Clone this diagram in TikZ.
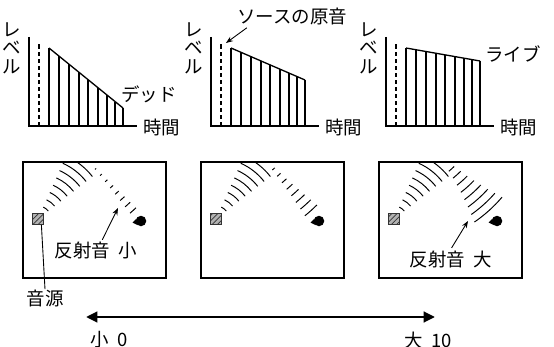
\documentclass[tikz,border=0pt]{standalone}
\usepackage{fontspec}
\newfontfamily\jp{Noto Sans CJK JP}
\usetikzlibrary{calc, arrows.meta, patterns}

\begin{document}
\begin{tikzpicture}[x=0.02cm, y=-0.02cm,
    axis/.style={line width=0.6pt},
    bar/.style={line width=0.75pt},
    direct/.style={line width=0.75pt, dash pattern=on 2.4pt off 1.6pt},
    lbl/.style={font=\jp\fontsize{10.5}{10.5}\selectfont, inner sep=0pt},
    room/.style={rectangle, draw, line width=0.85pt, outer sep=0pt,
        minimum width=2.86cm, minimum height=2.32cm},
    src/.style={rectangle, draw=black!80, line width=0.4pt, preaction={fill=black!30},
        pattern=north east lines, pattern color=black!80, minimum size=0.22cm, inner sep=0pt},
    ear/.style={circle, fill=black, minimum size=0.21cm, inner sep=0pt},
    wave/.style={line width=0.55pt},
    pointer/.style={-{Stealth[length=4pt, width=3pt]}, line width=0.5pt},
    scalebar/.style={{Triangle[length=6.5pt, width=6pt]}-{Triangle[length=6.5pt, width=6pt]}, line width=1.6pt}
]
\useasboundingbox (0,0) rectangle (554,347);

% --- Gráficas nivel / tiempo ---
\foreach \ox/\hl [count=\i] in {29/108, 211/80, 386/61} {
    \draw[axis] (\ox,37) -- (\ox,126) -- ++(108,0);
    \draw[direct] (\ox+10,126) -- (\ox+10,44);
    \draw[bar] (\ox+20,48) -- (\ox+94,\hl);
    \foreach \d in {0,10,20,30,39,49,58,66,74}
        \draw[bar] (\ox+20+\d,126) -- (\ox+20+\d,{48+(\hl-48)*\d/74});
    \node[lbl, anchor=west] (time\i) at (\ox+114,127) {時間};
    \node[lbl, align=center] (level\i) at (\ox-17,48) {レ\\ベ\\ル};
}

\node[lbl] (dead) at (149,94) {デッド};
\node[lbl] (live) at (513,54) {ライブ};
\node[lbl] (orig) at (292,17) {ソースの原音};
\coordinate (tip2) at (226,43);
\draw[pointer] ($(orig.south west)+(10,2)$) -- (tip2);

% --- Salas ---
\foreach \rx/\hs [count=\i] in {94.5/1.2, 272.5/2.4, 450.5/5.5} {
    \node[room] (room\i) at (\rx,220) {};
    \node[src] (src\i) at ($(room\i.north west)+(15,57)$) {};
    \node[ear] (ear\i) at ($(room\i.north west)+(118,59)$) {};
    \fill ($(ear\i)+(-4.5,-2.5)$) -- ($(ear\i)+(-8.5,1.5)$) -- ($(ear\i)+(-3.5,4)$) -- cycle;
    \coordinate (mirror\i) at ($(src\i)+(0,-114)$);
    \begin{scope}
        \clip (room\i.north west) rectangle (room\i.south east);
        \foreach \r in {13,21,...,69}
            \draw[wave] (src\i) ++(-66:\r) arc[start angle=-66, end angle=-38, radius=\r];
        \foreach \r in {86,94,...,142} {
            \pgfmathsetmacro\a{\hs*(\r-60)/60}
            \draw[wave] (mirror\i) ++({48-\a}:\r) arc[start angle={48-\a}, end angle={48+\a}, radius=\r];
        }
    \end{scope}
}

\node[lbl] (refl1) at (96,251) {反射音\hspace{.45em}小};
\node[lbl] (refl3) at (451,259) {反射音\hspace{.45em}大};
\coordinate (hit1) at (118,208);
\coordinate (hit3) at (468,221);
\draw[pointer, shorten <=1.5pt] (refl1.60) -- (hit1);
\draw[pointer, shorten <=1.5pt] (refl3.95) -- (hit3);

\node[lbl] (srclbl) at (45,298) {音源};
\draw[line width=0.5pt] (src1.-60) -- (srclbl.north);

% --- Escala ---
\coordinate (scaleL) at (86,317);
\coordinate (scaleR) at (435,317);
\draw[scalebar] (scaleL) -- (scaleR);
\node[lbl] (low) at (109,340) {小\hspace{.45em}0};
\node[lbl] (high) at (428,340) {大\hspace{.45em}10};

\end{tikzpicture}
\end{document}
